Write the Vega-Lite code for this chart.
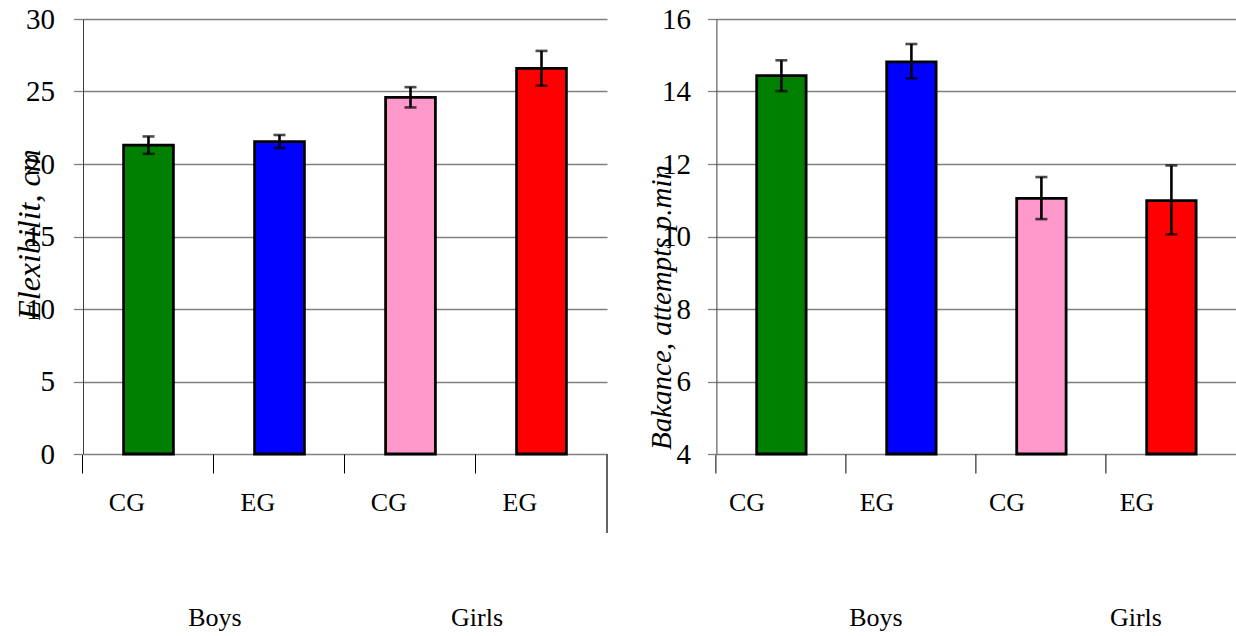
{
  "$schema": "https://vega.github.io/schema/vega-lite/v6.json",
  "padding": {"left": 13, "top": 5, "right": 0, "bottom": 0},
  "background": "white",
  "bounds": "flush",
  "spacing": 109.4,
  "config": {
    "view": {"stroke": null},
    "font": "Liberation Serif",
    "text": {"font": "Liberation Serif"},
    "axis": {"labelFont": "Liberation Serif", "titleFont": "Liberation Serif", "labelColor": "black", "titleColor": "black"}
  },
  "datasets": {
    "flex": [
      {"group": "Boys", "cond": "CG", "key": "Boys CG", "value": 21.3, "lo": 20.7, "hi": 21.9},
      {"group": "Boys", "cond": "EG", "key": "Boys EG", "value": 21.55, "lo": 21.1, "hi": 22.0},
      {"group": "Girls", "cond": "CG", "key": "Girls CG", "value": 24.6, "lo": 23.9, "hi": 25.3},
      {"group": "Girls", "cond": "EG", "key": "Girls EG", "value": 26.6, "lo": 25.4, "hi": 27.8}
    ],
    "balance": [
      {"group": "Boys", "cond": "CG", "key": "Boys CG", "value": 14.44, "lo": 14.01, "hi": 14.86},
      {"group": "Boys", "cond": "EG", "key": "Boys EG", "value": 14.82, "lo": 14.36, "hi": 15.31},
      {"group": "Girls", "cond": "CG", "key": "Girls CG", "value": 11.05, "lo": 10.48, "hi": 11.64},
      {"group": "Girls", "cond": "EG", "key": "Girls EG", "value": 10.99, "lo": 10.06, "hi": 11.96}
    ]
  },
  "hconcat": [
    {
      "width": 524,
      "height": 435,
      "data": {"name": "flex"},
      "encoding": {
        "x": {
          "field": "key", "type": "nominal",
          "scale": {"domain": ["Boys CG", "Boys EG", "Girls CG", "Girls EG"], "paddingInner": 0.62, "paddingOuter": 0.31},
          "axis": {
            "title": null, "bandPosition": -0.8158, "domain": false,
            "tickColor": "black", "tickSize": 19, "tickWidth": 1,
            "labelExpr": "split(datum.label, ' ')[1]", "labelFont": "Liberation Serif", "labelFontSize": 26, "labelPadding": 16,
            "labelBaseline": "top", "labelAlign": "center", "labelOffset": -21.6, "labelAngle": 0, "labelOverlap": false
          }
        }
      },
      "layer": [
        {
          "mark": {"type": "bar", "stroke": "black", "strokeWidth": 2.8},
          "encoding": {
            "y": {
              "field": "value", "type": "quantitative",
              "scale": {"domain": [0, 30], "nice": false},
              "axis": {
                "values": [0, 5, 10, 15, 20, 25, 30], "grid": true, "gridColor": "#808080", "gridWidth": 1.3,
                "tickColor": "#808080", "tickSize": 9.6, "tickWidth": 1.3, "domainColor": "#404040", "domainWidth": 1,
                "labelFont": "Liberation Serif", "labelFontSize": 29, "labelPadding": 19,
                "title": "Elexibilit, cm", "titleFont": "Liberation Serif", "titleFontSize": 32, "titleFontStyle": "italic", "titleFontWeight": "normal",
                "titleAngle": -90, "titleX": -44, "titleY": 215, "titleAlign": "center", "titleBaseline": "alphabetic"
              }
            },
            "color": {
              "field": "key", "type": "nominal",
              "scale": {"domain": ["Boys CG", "Boys EG", "Girls CG", "Girls EG"], "range": ["#008000", "#0000FF", "#FF99CC", "#FF0000"]},
              "legend": null
            }
          }
        },
        {
          "mark": {"type": "rule", "color": "black", "strokeWidth": 2.6},
          "encoding": {"y": {"field": "lo", "type": "quantitative"}, "y2": {"field": "hi"}}
        },
        {
          "mark": {"type": "tick", "orient": "horizontal", "size": 12, "thickness": 2.6, "color": "black"},
          "encoding": {"y": {"field": "lo", "type": "quantitative"}}
        },
        {
          "mark": {"type": "tick", "orient": "horizontal", "size": 12, "thickness": 2.6, "color": "black"},
          "encoding": {"y": {"field": "hi", "type": "quantitative"}}
        },
        {
          "transform": [{"filter": "datum.cond === 'EG'"}],
          "mark": {"type": "text", "fontSize": 26, "font": "Liberation Serif", "baseline": "alphabetic", "align": "center", "dy": 171.7, "dx": 1, "color": "black"},
          "encoding": {
            "x": {"field": "key", "type": "nominal", "bandPosition": -0.8158},
            "y": {"datum": 0, "type": "quantitative"},
            "text": {"field": "group"}
          }
        },
        {
          "mark": {"type": "rule", "color": "#606060", "strokeWidth": 1.2},
          "encoding": {
            "x": {"datum": "Girls EG", "type": "nominal", "bandPosition": 1.8158},
            "y": {"datum": 0, "type": "quantitative"},
            "y2": {"datum": -5.43}
          }
        }
      ]
    },
    {
      "width": 520,
      "height": 435,
      "data": {"name": "balance"},
      "encoding": {
        "x": {
          "field": "key", "type": "nominal",
          "scale": {"domain": ["Boys CG", "Boys EG", "Girls CG", "Girls EG"], "paddingInner": 0.62, "paddingOuter": 0.31},
          "axis": {
            "title": null, "bandPosition": -0.8158, "domain": false,
            "tickColor": "black", "tickSize": 19, "tickWidth": 1,
            "labelExpr": "split(datum.label, ' ')[1]", "labelFont": "Liberation Serif", "labelFontSize": 26, "labelPadding": 16,
            "labelBaseline": "top", "labelAlign": "center", "labelOffset": -34.4, "labelAngle": 0, "labelOverlap": false
          }
        }
      },
      "layer": [
        {
          "mark": {"type": "bar", "stroke": "black", "strokeWidth": 2.8},
          "encoding": {
            "y": {
              "field": "value", "type": "quantitative",
              "scale": {"domain": [4, 16], "nice": false, "zero": false},
              "axis": {
                "values": [4, 6, 8, 10, 12, 14, 16], "grid": true, "gridColor": "#808080", "gridWidth": 1.3,
                "tickColor": "#808080", "tickSize": 9, "tickWidth": 1.3, "domainColor": "#404040", "domainWidth": 1,
                "labelFont": "Liberation Serif", "labelFontSize": 29, "labelPadding": 17,
                "title": "Bakance, attempts p.min", "titleFont": "Liberation Serif", "titleFontSize": 29, "titleFontStyle": "italic", "titleFontWeight": "normal",
                "titleAngle": -90, "titleX": -46, "titleY": 288, "titleAlign": "center", "titleBaseline": "alphabetic"
              }
            },
            "y2": {"datum": 4},
            "color": {
              "field": "key", "type": "nominal",
              "scale": {"domain": ["Boys CG", "Boys EG", "Girls CG", "Girls EG"], "range": ["#008000", "#0000FF", "#FF99CC", "#FF0000"]},
              "legend": null
            }
          }
        },
        {
          "mark": {"type": "rule", "color": "black", "strokeWidth": 2.6},
          "encoding": {"y": {"field": "lo", "type": "quantitative"}, "y2": {"field": "hi"}}
        },
        {
          "mark": {"type": "tick", "orient": "horizontal", "size": 12, "thickness": 2.6, "color": "black"},
          "encoding": {"y": {"field": "lo", "type": "quantitative"}}
        },
        {
          "mark": {"type": "tick", "orient": "horizontal", "size": 12, "thickness": 2.6, "color": "black"},
          "encoding": {"y": {"field": "hi", "type": "quantitative"}}
        },
        {
          "transform": [{"filter": "datum.cond === 'EG'"}],
          "mark": {"type": "text", "fontSize": 26, "font": "Liberation Serif", "baseline": "alphabetic", "align": "center", "dy": 171.7, "dx": 29.5, "color": "black"},
          "encoding": {
            "x": {"field": "key", "type": "nominal", "bandPosition": -0.8158},
            "y": {"datum": 4, "type": "quantitative"},
            "text": {"field": "group"}
          }
        }
      ]
    }
  ]
}
